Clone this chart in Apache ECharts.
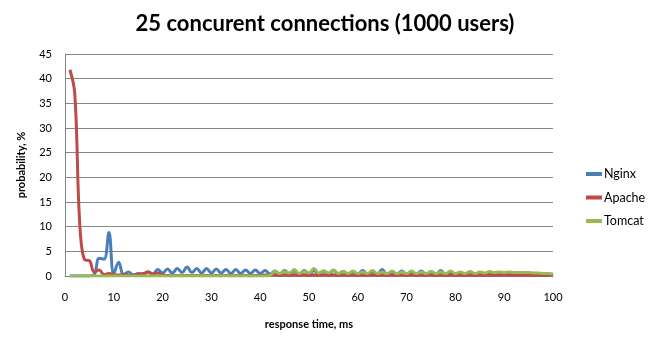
<!DOCTYPE html>
<html><head><meta charset="utf-8">
<script src="https://cdn.jsdelivr.net/npm/echarts@6/dist/echarts.min.js"></script>
<style>html,body{margin:0;padding:0;background:#fff}#c{width:650px;height:346px}</style>
</head><body><div id="c"></div>
<script>
var titleText = '25 concurent connections (1000 users)';
var xName = 'response time, ms';
var yName = 'probability, %';
var seriesNames = ['Nginx', 'Apache', 'Tomcat'];
var responseMs = [1,2,3,4,5,6,7,8,9,10,11,12,13,14,15,16,17,18,19,20,21,22,23,24,25,26,27,28,29,30,31,32,33,34,35,36,37,38,39,40,41,42,43,44,45,46,47,48,49,50,51,52,53,54,55,56,57,58,59,60,61,62,63,64,65,66,67,68,69,70,71,72,73,74,75,76,77,78,79,80,81,82,83,84,85,86,87,88,89,90,91,92,93,94,95,96,97,98,99,100];
var nginx = [0,0,0,0,0,0.3,3.6,3.4,8.8,0.4,
  2.8,0.3,0.8,0.2,0.5,0.3,0.8,0.4,1.3,0.6,
  1.4,0.6,1.5,0.7,1.8,0.7,1.5,0.6,1.5,0.6,
  1.4,0.6,1.3,0.5,1.3,0.5,1.2,0.5,1.2,0.5,
  1.1,0.4,1.0,0.4,1.1,0.4,1.0,0.4,1.1,0.4,
  1.1,0.4,1.0,0.4,1.1,0.4,0.9,0.4,0.9,0.4,
  1.1,0.4,0.9,0.4,1.3,0.4,0.8,0.4,1.0,0.4,
  0.8,0.4,1.0,0.3,0.8,0.3,1.1,0.3,0.7,0.3,
  0.7,0.3,0.8,0.3,0.6,0.3,0.6,0.3,0.5,0.3,
  0.5,0.3,0.5,0.3,0.6,0.3,0.4,0.3,0.4,0.3];
var apache = [41.8,37,11,3.3,3.1,0.8,1.2,0.3,0.5,0.3,
  0.2,0.3,0.1,0.2,0.3,0.5,0.8,0.4,0.6,0.2,
  0.1,0.05,0.1,0.05,0.1,0.05,0.1,0.05,0.1,0.05,
  0.1,0.05,0.1,0.05,0.1,0.05,0.1,0.05,0.1,0.1,
  0.2,0.15,0.25,0.15,0.25,0.15,0.25,0.15,0.25,0.15,
  0.25,0.15,0.25,0.15,0.25,0.15,0.25,0.15,0.25,0.15,
  0.25,0.15,0.25,0.15,0.25,0.15,0.25,0.15,0.25,0.15,
  0.25,0.15,0.25,0.15,0.25,0.15,0.25,0.15,0.25,0.15,
  0.2,0.15,0.2,0.15,0.2,0.15,0.2,0.15,0.2,0.15,
  0.2,0.15,0.2,0.15,0.2,0.15,0.2,0.15,0.2,0.15];
var tomcat = [0,0,0,0,0,0,0,0,0,0,
  0,0,0,0,0,0,0,0,0,0,
  0,0,0,0,0,0,0,0,0,0,
  0,0,0,0,0,0,0,0,0,0,
  0,0.1,1.0,0.5,0.9,0.6,1.3,0.5,1.0,0.6,
  1.5,0.6,1.0,0.6,1.2,0.5,0.9,0.5,1.0,0.5,
  0.8,0.5,1.1,0.5,0.8,0.5,1.0,0.5,0.8,0.5,
  1.0,0.5,0.8,0.5,0.9,0.5,0.8,0.5,1.0,0.5,
  0.8,0.5,0.9,0.5,0.8,0.6,0.9,0.7,0.8,0.7,
  0.8,0.7,0.7,0.7,0.7,0.6,0.6,0.5,0.5,0.4];
var colors = ['#4A7EBB', '#BE4B48', '#98B954'];

function pairs(vals){ return vals.map(function(v,i){ return [responseMs[i], v]; }); }
var F = 'Lato, "Liberation Sans", sans-serif';
var chart = echarts.init(document.getElementById('c'));
chart.setOption({
  animation: false,
  color: colors,
  title: { text: titleText, left: 'center', top: 8,
    textStyle: { fontFamily: F, fontSize: 22, fontWeight: 'bold', color: '#000' } },
  grid: { left: 65, right: 97, top: 54, bottom: 70 },
  legend: { orient: 'vertical', left: 581, top: 162, itemWidth: 16, itemHeight: 4, itemGap: 9.5,
    icon: 'rect', data: seriesNames,
    textStyle: { fontFamily: F, fontSize: 12.5, color: '#000', lineHeight: 14, padding: [0,0,0,-3] } },
  xAxis: { type: 'value', min: 0, max: 100, interval: 10,
    name: xName, nameLocation: 'middle', nameGap: 43,
    nameTextStyle: { fontFamily: F, fontSize: 11, fontWeight: 'bold', color: '#000' },
    axisLine: { show: true, lineStyle: { color: '#868686' } },
    axisTick: { show: false },
    splitLine: { show: false },
    axisLabel: { fontFamily: F, fontSize: 11, color: '#000', margin: 16 } },
  yAxis: { type: 'value', min: 0, max: 45, interval: 5,
    name: yName, nameLocation: 'middle', nameGap: 38, nameRotate: 90,
    nameTextStyle: { fontFamily: F, fontSize: 11, fontWeight: 'bold', color: '#000' },
    axisLine: { show: true, lineStyle: { color: '#868686' } },
    axisTick: { show: false },
    splitLine: { lineStyle: { color: '#868686', width: 1 } },
    axisLabel: { fontFamily: F, fontSize: 11, color: '#000', margin: 13 } },
  series: [
    { name: seriesNames[0], type: 'line', data: pairs(nginx), smooth: 0.4, showSymbol: false, lineStyle: { width: 3 } },
    { name: seriesNames[1], type: 'line', data: pairs(apache), smooth: 0.4, showSymbol: false, lineStyle: { width: 3 } },
    { name: seriesNames[2], type: 'line', data: pairs(tomcat), smooth: 0.4, showSymbol: false, lineStyle: { width: 3 } }
  ]
});
</script></body></html>
